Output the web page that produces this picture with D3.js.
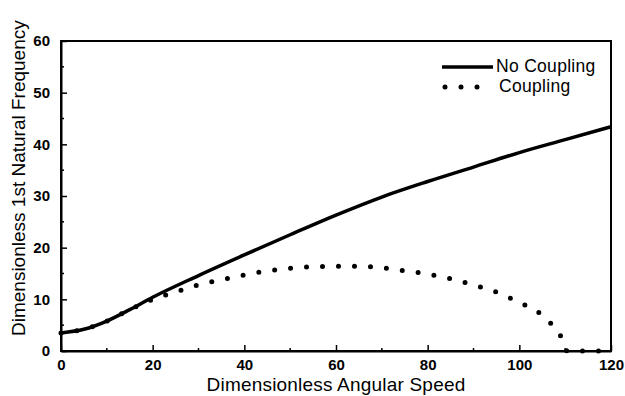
<!DOCTYPE html>
<html>
<head>
<meta charset="utf-8">
<script src="https://cdn.jsdelivr.net/npm/d3@7"></script>
<style>
  body { margin: 0; background: #fff; }
  svg { font-family: "Liberation Sans", Arial, sans-serif; }
</style>
</head>
<body>
<div id="chart"></div>
<script>
// values
const speedNoCoupling = [0, 5, 10, 15, 20, 30, 40, 50, 60, 70, 80, 90, 100, 110, 120];
const freqNoCoupling  = [3.5, 4.2, 5.8, 8.0, 10.4, 14.6, 18.6, 22.5, 26.3, 29.8, 32.8, 35.6, 38.4, 40.9, 43.4];

const speedCoupling = [0, 5, 10, 15, 20, 25, 30, 35, 40, 45, 50, 55, 60, 65, 70, 75, 80, 85, 90, 95, 100, 104, 107, 109, 110, 110.4, 115, 120];
const freqCoupling  = [3.5, 4.2, 5.8, 8.0, 10.0, 11.4, 12.8, 13.8, 14.7, 15.5, 16.0, 16.3, 16.4, 16.4, 16.1, 15.5, 14.9, 14.0, 12.8, 11.4, 9.4, 7.6, 5.2, 2.9, 0.8, 0, 0, 0];

const xTicks = [0, 20, 40, 60, 80, 100, 120];
const yTicks = [0, 10, 20, 30, 40, 50, 60];
const seriesNames = ["No Coupling", "Coupling"];

const svgWidth = 625, svgHeight = 396;
const margin = {top: 41, right: 14, bottom: 45, left: 61};
const width = svgWidth - margin.left - margin.right,
      height = svgHeight - margin.top - margin.bottom;

const x = d3.scaleLinear().domain([0, 120]).range([0, width]);
const y = d3.scaleLinear().domain([0, 60]).range([height, 0]);

const svg = d3.select("#chart").append("svg")
  .attr("width", svgWidth)
  .attr("height", svgHeight);

const main = svg.append("g")
  .attr("transform", "translate(" + margin.left + "," + margin.top + ")");

// frame
main.append("rect")
  .attr("width", width).attr("height", height)
  .attr("fill", "none").attr("stroke", "#000").attr("stroke-width", 2);

// minor ticks (inside)
const xMinor = d3.range(10, 120, 20);
const yMinor = d3.range(5, 60, 10);
main.selectAll(".xminor").data(xMinor).enter().append("line")
  .attr("x1", d => x(d)).attr("x2", d => x(d))
  .attr("y1", height).attr("y2", height - 3)
  .attr("stroke", "#000").attr("stroke-width", 1.5);
main.selectAll(".yminor").data(yMinor).enter().append("line")
  .attr("x1", 0).attr("x2", 3)
  .attr("y1", d => y(d)).attr("y2", d => y(d))
  .attr("stroke", "#000").attr("stroke-width", 1.5);

// x axis
const xAxis = d3.axisBottom(x).tickValues(xTicks).tickSizeInner(-6).tickSizeOuter(0).tickPadding(8);
const gx = main.append("g")
  .attr("transform", "translate(0," + height + ")")
  .call(xAxis);
gx.select(".domain").attr("stroke-width", 2);
gx.selectAll(".tick line").attr("stroke-width", 1.5);
gx.selectAll(".tick text")
  .attr("font-size", 15).attr("font-weight", "bold")
  .attr("font-family", "'Liberation Sans', Arial, sans-serif");

// y axis
const yAxis = d3.axisLeft(y).tickValues(yTicks).tickSizeInner(-6).tickSizeOuter(0).tickPadding(11);
const gy = main.append("g").call(yAxis);
gy.select(".domain").attr("stroke-width", 2);
gy.selectAll(".tick line").attr("stroke-width", 1.5);
gy.selectAll(".tick text")
  .attr("font-size", 15).attr("font-weight", "bold")
  .attr("font-family", "'Liberation Sans', Arial, sans-serif");

// axis titles
svg.append("text")
  .attr("x", margin.left + width / 2)
  .attr("y", 391)
  .attr("text-anchor", "middle")
  .attr("font-size", 19)
  .attr("letter-spacing", 0.2)
  .text("Dimensionless Angular Speed");

svg.append("text")
  .attr("transform", "translate(25,336) rotate(-90)")
  .attr("text-anchor", "start")
  .attr("font-size", 19)
  .text("Dimensionless 1st Natural Frequency");

// curves
const line = d3.line()
  .x(d => x(d[0])).y(d => y(d[1]))
  .curve(d3.curveMonotoneX);

main.append("path")
  .datum(d3.zip(speedNoCoupling, freqNoCoupling))
  .attr("d", line)
  .attr("fill", "none").attr("stroke", "#000")
  .attr("stroke-width", 3.5);

main.append("path")
  .datum(d3.zip(speedCoupling, freqCoupling))
  .attr("d", line)
  .attr("fill", "none").attr("stroke", "#000")
  .attr("stroke-width", 5)
  .attr("stroke-linecap", "round")
  .attr("stroke-dasharray", "0,16");

// legend
const legend = svg.append("g");
legend.append("line")
  .attr("x1", 442).attr("x2", 493).attr("y1", 67).attr("y2", 67)
  .attr("stroke", "#000").attr("stroke-width", 3.5);
legend.selectAll(".ldot").data([445, 461, 477]).enter().append("circle")
  .attr("cx", d => d).attr("cy", 87).attr("r", 2.5).attr("fill", "#000");
legend.selectAll(".ltext").data(seriesNames).enter().append("text")
  .attr("x", (d, i) => i === 0 ? 496 : 499)
  .attr("y", (d, i) => 72 + i * 20)
  .attr("font-size", 17.5)
  .attr("letter-spacing", 0.3)
  .text(d => d);
</script>
</body>
</html>
